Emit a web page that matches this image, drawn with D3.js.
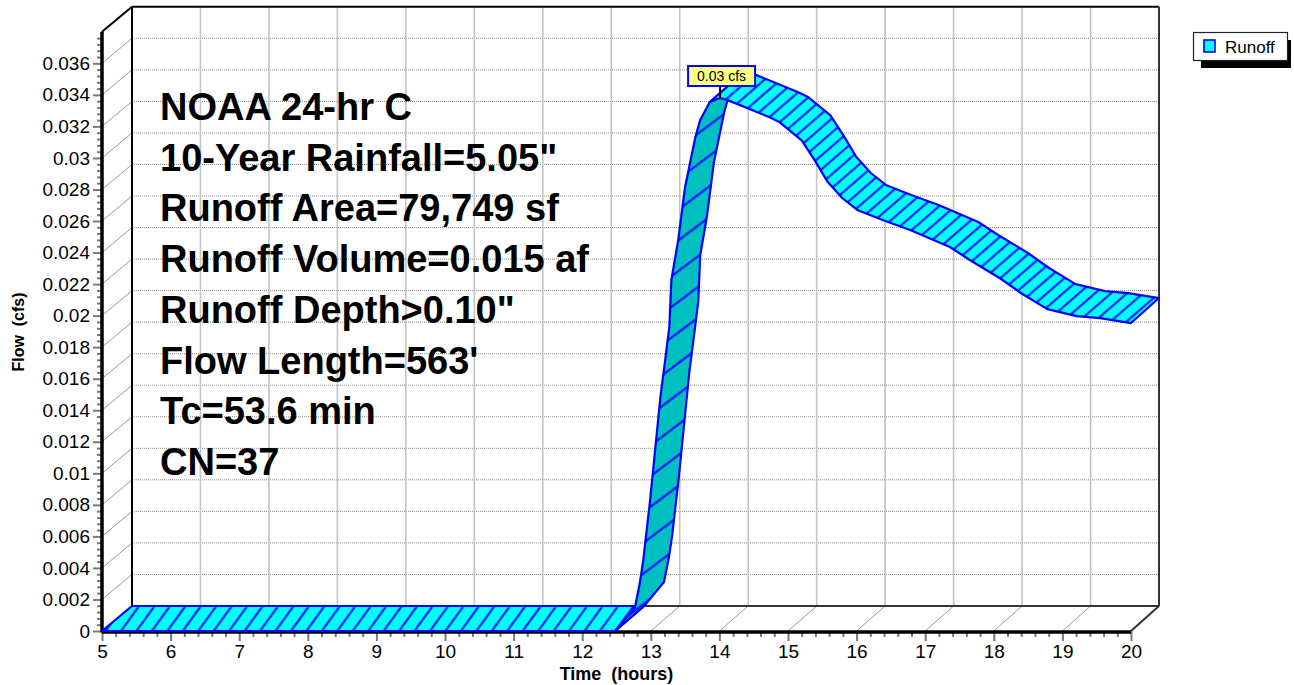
<!DOCTYPE html>
<html><head><meta charset="utf-8">
<script src="https://cdn.jsdelivr.net/npm/d3@7"></script>
<style>
body{margin:0;background:#fff}
svg{display:block}
text{font-family:"Liberation Sans",Arial,sans-serif}
</style>
</head><body>
<svg id="c" width="1294" height="685"></svg>
<script>
// ---- data ----
const hours = [5, 12.48, 12.77, 12.84, 12.89, 12.99, 13.14, 13.21, 13.27, 13.30,
  13.40, 13.50, 13.65, 13.72, 13.86, 14.01, 14.13, 14.74, 14.88, 15.20,
  15.39, 15.58, 15.79, 16.01, 16.38, 16.78, 17.36, 17.65, 18.09, 18.40,
  18.78, 19.21, 19.55, 20.00];
const runoff = [0, 0, 0.00152, 0.00304, 0.0045, 0.0083, 0.01484, 0.01719, 0.01928, 0.02226,
  0.02480, 0.02816, 0.03133, 0.03241, 0.03355, 0.0338, 0.03365, 0.03257, 0.03226, 0.03112,
  0.02985, 0.02847, 0.02746, 0.02670, 0.02606, 0.02543, 0.02435, 0.02353, 0.02237, 0.02142,
  0.02041, 0.01997, 0.01984, 0.01953];
const seriesName = "Runoff";
const xTicks = [5,6,7,8,9,10,11,12,13,14,15,16,17,18,19,20];
const yTicks = [0,0.002,0.004,0.006,0.008,0.01,0.012,0.014,0.016,0.018,0.02,0.022,0.024,0.026,0.028,0.03,0.032,0.034,0.036];
const yTickLabels = ["0","0.002","0.004","0.006","0.008","0.01","0.012","0.014","0.016","0.018","0.02","0.022","0.024","0.026","0.028","0.03","0.032","0.034","0.036"];
const infoLines = ["NOAA 24-hr C","10-Year Rainfall=5.05\"","Runoff Area=79,749 sf","Runoff Volume=0.015 af","Runoff Depth>0.10\"","Flow Length=563'","Tc=53.6 min","CN=37"];
const xTitle = "Time  (hours)";
const yTitle = "Flow  (cfs)";

// ---- scales ----
const svg = d3.select("#c");
const x  = d3.scaleLinear().domain([5,20]).range([102,1131]);   // front plane
const xb = d3.scaleLinear().domain([5,20]).range([132,1159]);   // back plane
const y  = d3.scaleLinear().domain([0,0.038]).range([631,31.8]);
const DY = -25;
const yb = v => y(v) + DY;
const yMax = 0.038;

const minorY = d3.range(0, 191).map(i => i*0.0002).filter((v,i)=> i%2===0 && i%10!==0 && v < yMax);
const minorX = d3.range(0, 76).map(i => 5 + i*0.2).filter((v,i)=> i%5!==0);

// ---- walls & grid ----
const g = svg.append("g");
g.selectAll(".hg").data(yTicks.filter(v=>v>0)).join("line")
  .attr("x1", xb(5)).attr("x2", xb(20))
  .attr("y1", d=>yb(d)).attr("y2", d=>yb(d))
  .attr("stroke","#8a8a8a").attr("stroke-width",1).attr("stroke-dasharray","1,1");
g.selectAll(".vg").data(xTicks.filter(h=>h>5&&h<20)).join("line")
  .attr("x1", d=>xb(d)).attr("x2", d=>xb(d))
  .attr("y1", yb(0)).attr("y2", yb(yMax))
  .attr("stroke","#c4c4c4").attr("stroke-width",1.6);
g.selectAll(".lw").data(yTicks.filter(v=>v>0)).join("line")
  .attr("x1", x(5)).attr("y1", d=>y(d))
  .attr("x2", xb(5)).attr("y2", d=>yb(d))
  .attr("stroke","#9a9a9a").attr("stroke-width",1);
g.selectAll(".fd").data(xTicks.filter(h=>h>5&&h<20)).join("line")
  .attr("x1", d=>x(d)).attr("y1", y(0))
  .attr("x2", d=>xb(d)).attr("y2", yb(0))
  .attr("stroke","#9a9a9a").attr("stroke-width",1);
// frame
const frame = [
  [x(5),y(yMax),xb(5),yb(yMax),"#000"],
  [xb(5),yb(yMax),xb(20),yb(yMax),"#000"],
  [xb(5),yb(yMax),xb(5),yb(0),"#000"],
  [xb(20),yb(yMax),xb(20),yb(0),"#333"],
  [xb(5),yb(0),xb(20),yb(0),"#333"],
  [x(20),y(0),xb(20),yb(0),"#333"]
];
g.selectAll(".fr").data(frame).join("line")
  .attr("x1",d=>d[0]).attr("y1",d=>d[1]).attr("x2",d=>d[2]).attr("y2",d=>d[3])
  .attr("stroke",d=>d[4]).attr("stroke-width",2);

// ---- axes ----
function styleAxis(sel, labels){
  sel.selectAll(".tick line").attr("stroke","#7a7a7a").attr("stroke-width",2);
  sel.selectAll(".tick text").attr("font-size","19px").attr("fill","#000")
    .attr("font-family",'"Liberation Sans",Arial,sans-serif');
  if(!labels) sel.selectAll(".tick text").remove();
  sel.select(".domain").remove();
}
const yMinorAxis = svg.append("g").attr("transform","translate(102,0)")
  .call(d3.axisLeft(y).tickValues(minorY).tickSize(5).tickSizeOuter(0).tickFormat(""));
styleAxis(yMinorAxis,false);
const yAxis = svg.append("g").attr("transform","translate(102,0)")
  .call(d3.axisLeft(y).tickValues(yTicks).tickSize(9).tickPadding(3).tickSizeOuter(0)
    .tickFormat((d,i)=>yTickLabels[i]));
styleAxis(yAxis,true);
const xMinorAxis = svg.append("g").attr("transform","translate(0,631)")
  .call(d3.axisBottom(x).tickValues(minorX).tickSize(6).tickSizeOuter(0).tickFormat(""));
styleAxis(xMinorAxis,false);
const xAxis = svg.append("g").attr("transform","translate(0,631)")
  .call(d3.axisBottom(x).tickValues(xTicks).tickSize(10).tickPadding(4).tickSizeOuter(0));
styleAxis(xAxis,true);
// thick axis lines
svg.append("line").attr("x1",x(5)).attr("x2",x(5)).attr("y1",y(yMax)).attr("y2",y(0)+1.5)
  .attr("stroke","#000").attr("stroke-width",3.5);
svg.append("line").attr("x1",x(5)).attr("x2",x(20)).attr("y1",y(0)+1).attr("y2",y(0)+1)
  .attr("stroke","#000").attr("stroke-width",3.5);

// ---- hatch patterns ----
const defs = svg.append("defs");
function hatch(id, angle, spacing){
  const p = defs.append("pattern").attr("id",id).attr("patternUnits","userSpaceOnUse")
    .attr("width",60).attr("height",spacing)
    .attr("patternTransform",`rotate(${-angle})`);
  p.append("line").attr("x1",-5).attr("x2",65).attr("y1",spacing/2).attr("y2",spacing/2)
    .attr("stroke","#0000ff").attr("stroke-width",2);
}
hatch("hFlat",54,12.5);
hatch("hRise",37,24.5);
hatch("hDesc",41,10.5);

// ---- ribbon ----
const F = hours.map((h,i)=>[x(h), y(runoff[i])]);
const B = hours.map((h,i)=>[xb(h), yb(runoff[i])]);
const faceFront = [];
for(let i=0;i<hours.length-1;i++){
  const dx=F[i+1][0]-F[i][0], dy=F[i+1][1]-F[i][1];
  const Dx=B[i][0]-F[i][0], Dy=B[i][1]-F[i][1];
  faceFront.push(dx*Dy - dy*Dx > 0);
}
const runs=[];
let s=0;
for(let i=1;i<=faceFront.length;i++){
  if(i===faceFront.length || faceFront[i]!==faceFront[s]){
    runs.push({a:s,b:i,front:faceFront[s]}); s=i;
  }
}
const rg = svg.append("g");
runs.forEach(r=>{
  const pts=[];
  for(let i=r.a;i<=r.b;i++) pts.push(F[i]);
  for(let i=r.b;i>=r.a;i--) pts.push(B[i]);
  const flat = d3.max(runoff.slice(r.a,r.b+1))===0;
  const pat = r.front ? "hRise" : (flat ? "hFlat" : "hDesc");
  const path = d3.line()(pts)+"Z";
  rg.append("path").attr("d",path).attr("fill", r.front ? "#00bfbf" : "#00ffff");
  rg.append("path").attr("d",path).attr("fill",`url(#${pat})`);
  rg.append("path").attr("d",path).attr("fill","none").attr("stroke","#0000ff")
    .attr("stroke-width",2.2).attr("stroke-linejoin","round");
});

// ---- titles ----
svg.append("text").attr("x",(x(5)+x(20))/2).attr("y",680).attr("text-anchor","middle")
  .attr("font-size","18px").attr("font-weight","bold").style("white-space","pre").text(xTitle);
svg.append("text").attr("transform","translate(24,332) rotate(-90)").attr("text-anchor","middle")
  .attr("font-size","16px").attr("font-weight","bold").style("white-space","pre").text(yTitle);

// ---- info text ----
svg.append("g").selectAll("text").data(infoLines).join("text")
  .attr("x",160).attr("y",(d,i)=>120+i*50.7)
  .attr("font-size","38px").attr("font-weight","bold").attr("fill","#000").text(d=>d);

// ---- peak label ----
const pk = d3.maxIndex(runoff);
const px = x(hours[pk]), py = y(runoff[pk]);
svg.append("line").attr("x1",px).attr("x2",px).attr("y1",py-12).attr("y2",py)
  .attr("stroke","#000").attr("stroke-width",2);
svg.append("rect").attr("x",px-32).attr("y",py-32).attr("width",67).attr("height",20)
  .attr("fill","#ffff80").attr("stroke","#0000ff").attr("stroke-width",2);
svg.append("text").attr("x",px+1.5).attr("y",py-17).attr("text-anchor","middle")
  .attr("font-size","14px").attr("fill","#000").text(d3.format(".2f")(runoff[pk])+" cfs");

// ---- legend ----
const lg = svg.append("g");
lg.append("path").attr("d","M1201,61 L1201,68 L1291,68 L1291,40 L1287,40 L1287,61 Z").attr("fill","#000");
lg.append("rect").attr("x",1193.5).attr("y",32.5).attr("width",94).attr("height",28)
  .attr("fill","#fff").attr("stroke","#222").attr("stroke-width",1.2);
lg.append("rect").attr("x",1204).attr("y",40).attr("width",11).attr("height",12)
  .attr("fill","#00ffff").attr("stroke","#0000ff").attr("stroke-width",1.6);
lg.append("text").attr("x",1225).attr("y",53).attr("font-size","17px").attr("fill","#000").text(seriesName);
</script>
</body></html>
